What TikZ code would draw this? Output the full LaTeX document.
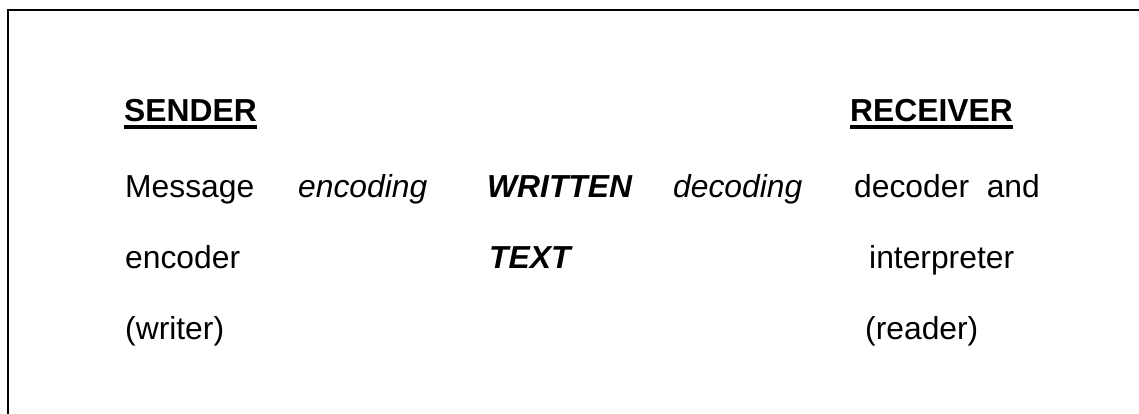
\documentclass[tikz,border=0pt]{standalone}
\usepackage{fontspec}
\setmainfont{Liberation Sans}
\begin{document}
\begin{tikzpicture}[x=1pt,y=-1pt,
  txt/.style={anchor=base west,inner sep=0pt,font=\fontsize{31.8}{38}\selectfont},
  head/.style={txt,font=\fontsize{31.8}{38}\selectfont\bfseries},
  ital/.style={txt,font=\fontsize{31.8}{38}\selectfont\itshape},
  bi/.style={txt,font=\fontsize{31.8}{38}\selectfont\bfseries\itshape},
  frame/.style={line width=1.8pt,black},
  uline/.style={line width=4.5pt,black}]
\useasboundingbox (0,0) rectangle (1139,414);
\coordinate (tl) at (8.3,10);
\coordinate (tr) at (1139,10);
\coordinate (bl) at (8.3,414);
\draw[frame] (tr) -- (tl) -- (bl);
% headings
\node[head] (sender) at (124,122) {SENDER};
\node[head] (receiver) at (850,122) {RECEIVER};
\draw[uline] ([yshift=-5pt]sender.base west) -- ([yshift=-5pt]sender.base east);
\draw[uline] ([yshift=-5pt]receiver.base west) -- ([yshift=-5pt]receiver.base east);
% row 1
\node[txt] (message) at (125,197) {Message};
\node[ital] (encoding) at (298,197) {encoding};
\node[bi] (written) at (487,197) {WRITTEN};
\node[ital] (decoding) at (673,197) {decoding};
\node[txt] (decoder) at (854,197) {decoder\ \ and};
% row 2
\node[txt] (encoder) at (125,268) {encoder};
\node[bi] (text) at (489,268) {TEXT};
\node[txt] (interp) at (869,268) {interpreter};
% row 3
\node[txt] (writer) at (125,339) {(writer)};
\node[txt] (reader) at (865,339) {(reader)};
\end{tikzpicture}
\end{document}
